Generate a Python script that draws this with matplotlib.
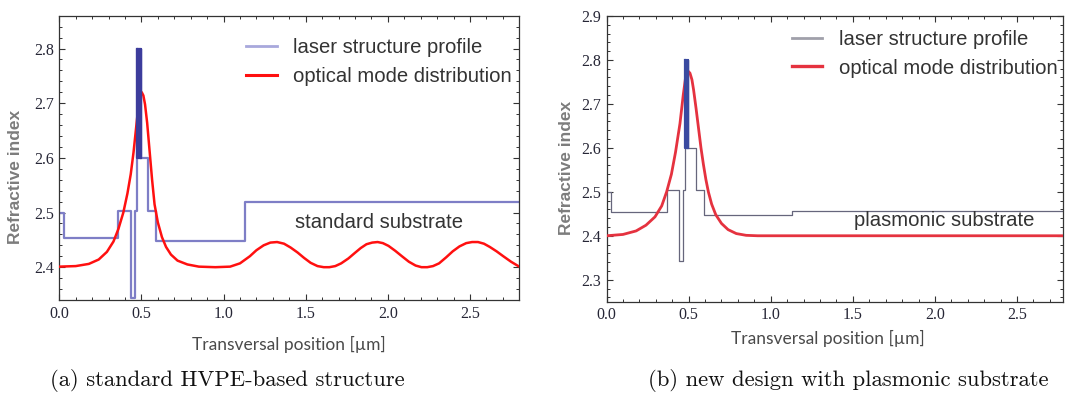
import numpy as np
import matplotlib.pyplot as plt
from matplotlib.lines import Line2D
from matplotlib.ticker import MultipleLocator, FormatStrFormatter

plt.rcParams['font.family'] = ['Liberation Serif', 'DejaVu Serif']

# ---- (a) standard HVPE-based structure ----
prof_a_x = [0.0, 0.027, 0.358, 0.437, 0.459, 0.471, 0.497, 0.542, 0.588, 1.133, 2.8]
prof_a_n = [2.500, 2.454, 2.503, 2.343, 2.503, 2.800, 2.600, 2.503, 2.447, 2.519, 2.519]
wells_a_x = [0.471, 0.474, 0.477, 0.480, 0.483, 0.486, 0.489, 0.492, 0.495, 0.497]
wells_a_n = [2.8, 2.6, 2.8, 2.6, 2.8, 2.6, 2.8, 2.6, 2.8, 2.6]

mode_a_x = [0.000, 0.100, 0.180, 0.240, 0.290, 0.330, 0.360, 0.390, 0.415, 0.435,
            0.452, 0.466, 0.480, 0.492, 0.502, 0.512, 0.522, 0.535, 0.550, 0.565,
            0.580, 0.600, 0.625, 0.650, 0.680, 0.720, 0.780, 0.850, 0.950, 1.040,
            1.100, 1.160, 1.200, 1.244, 1.285, 1.326, 1.368, 1.408, 1.450, 1.490,
            1.530, 1.572, 1.610, 1.644, 1.680, 1.716, 1.760, 1.799, 1.835, 1.870,
            1.905, 1.938, 1.970, 2.004, 2.045, 2.086, 2.128, 2.169, 2.205, 2.240,
            2.275, 2.312, 2.355, 2.395, 2.436, 2.477, 2.513, 2.549, 2.585, 2.621,
            2.662, 2.703, 2.750, 2.800]
mode_a_n = [2.401, 2.402, 2.406, 2.414, 2.428, 2.447, 2.470, 2.500, 2.535, 2.570,
            2.610, 2.650, 2.690, 2.714, 2.720, 2.714, 2.698, 2.664, 2.612, 2.560,
            2.515, 2.482, 2.455, 2.437, 2.423, 2.412, 2.405, 2.401, 2.400, 2.401,
            2.407, 2.420, 2.431, 2.440, 2.445, 2.446, 2.443, 2.436, 2.427, 2.417,
            2.408, 2.402, 2.400, 2.400, 2.402, 2.407, 2.416, 2.426, 2.435, 2.442,
            2.445, 2.446, 2.444, 2.439, 2.430, 2.420, 2.410, 2.403, 2.400, 2.400,
            2.402, 2.407, 2.418, 2.429, 2.438, 2.444, 2.446, 2.446, 2.443, 2.437,
            2.429, 2.420, 2.410, 2.401]

# ---- (b) new design with plasmonic substrate ----
prof_b_x = [0.0, 0.030, 0.366, 0.443, 0.463, 0.477, 0.498, 0.542, 0.595, 1.127, 2.78]
prof_b_n = [2.500, 2.455, 2.504, 2.343, 2.504, 2.800, 2.600, 2.504, 2.447, 2.456, 2.456]
wells_b_x = [0.477, 0.480, 0.483, 0.486, 0.489, 0.492, 0.495, 0.498]
wells_b_n = [2.8, 2.6, 2.8, 2.6, 2.8, 2.6, 2.8, 2.6]

mode_b_x = [0.000, 0.100, 0.180, 0.240, 0.295, 0.336, 0.366, 0.395, 0.420, 0.447,
            0.467, 0.482, 0.495, 0.508, 0.520, 0.530, 0.545, 0.560, 0.575, 0.590,
            0.605, 0.620, 0.640, 0.665, 0.700, 0.740, 0.790, 0.850, 0.920, 1.500, 2.780]
mode_b_n = [2.400, 2.403, 2.411, 2.424, 2.443, 2.468, 2.500, 2.540, 2.590, 2.655,
            2.720, 2.762, 2.775, 2.770, 2.755, 2.732, 2.690, 2.645, 2.600, 2.562,
            2.528, 2.500, 2.472, 2.448, 2.428, 2.414, 2.405, 2.401, 2.400, 2.400, 2.400]

legend_labels = ['laser structure profile', 'optical mode distribution']

fig = plt.figure(figsize=(10.66, 4.01), dpi=100)
ax_a = fig.add_axes([0.0556, 0.2519, 0.4315, 0.7089])
ax_b = fig.add_axes([0.569, 0.2476, 0.4282, 0.7132])


def style_axes(ax, xlim, ylim):
    ax.set_xlim(xlim)
    ax.set_ylim(ylim)
    ax.xaxis.set_major_locator(MultipleLocator(0.5))
    ax.xaxis.set_minor_locator(MultipleLocator(0.1))
    ax.yaxis.set_major_locator(MultipleLocator(0.1))
    ax.yaxis.set_minor_locator(MultipleLocator(0.02))
    ax.xaxis.set_major_formatter(FormatStrFormatter('%.1f'))
    ax.yaxis.set_major_formatter(FormatStrFormatter('%.1f'))
    ax.tick_params(which='both', direction='in', top=True, right=True,
                   colors='#333333', labelcolor='#262636', labelsize=11.5, pad=4)
    ax.tick_params(which='major', length=4.5, width=0.8)
    ax.tick_params(which='minor', length=2.5, width=0.7)
    for sp in ax.spines.values():
        sp.set_color('#333333')
        sp.set_linewidth(0.9)
    ax.set_ylabel('Refractive index', family='Liberation Sans', fontweight='bold',
                  color='#7c7c7c', fontsize=12.5)
    ax.set_xlabel('Transversal position [µm]', family='Lato', color='#4a4a4a',
                  fontsize=12.5)


# panel a
ax_a.step(prof_a_x, prof_a_n, where='post', color='#7e7ec6', lw=1.6, zorder=2)
ax_a.plot(mode_a_x, mode_a_n, color='#ff1010', lw=1.8, zorder=3)
ax_a.step(wells_a_x, wells_a_n, where='post', color='#3c3c9c', lw=1.6, zorder=4)
style_axes(ax_a, (0, 2.8), (2.34, 2.86))
ax_a.text(1.433, 2.481, 'standard substrate', family='Liberation Sans',
          fontsize=14.6, color='#333333', va='center')
h_a = [Line2D([], [], color='#a8a8dc', lw=2), Line2D([], [], color='#ff1010', lw=2.2)]
ax_a.legend(h_a, legend_labels, loc='upper left', bbox_to_anchor=(0.407, 0.921),
            frameon=False, borderpad=0, borderaxespad=0, handlelength=1.5,
            handletextpad=0.8, labelspacing=0.47,
            prop={'family': 'Liberation Sans', 'size': 14.6}, labelcolor='#333333')
ax_a.xaxis.set_label_coords(0.5, -0.125)
ax_a.yaxis.set_label_coords(-0.078, 0.433)

# panel b
ax_b.step(prof_b_x, prof_b_n, where='post', color='#66667c', lw=0.9, zorder=2)
ax_b.plot(mode_b_x, mode_b_n, color='#e5323f', lw=2.0, zorder=3)
ax_b.step(wells_b_x, wells_b_n, where='post', color='#3a4aa0', lw=1.6, zorder=4)
style_axes(ax_b, (0, 2.78), (2.25, 2.9005))
ax_b.text(1.505, 2.434, 'plasmonic substrate', family='Liberation Sans',
          fontsize=14.6, color='#333333', va='center')
h_b = [Line2D([], [], color='#a0a0aa', lw=2), Line2D([], [], color='#e5323f', lw=2.4)]
ax_b.legend(h_b, legend_labels, loc='upper left', bbox_to_anchor=(0.406, 0.950),
            frameon=False, borderpad=0, borderaxespad=0, handlelength=1.5,
            handletextpad=0.8, labelspacing=0.47,
            prop={'family': 'Liberation Sans', 'size': 14.6}, labelcolor='#333333')
ax_b.xaxis.set_label_coords(0.485, -0.10)
ax_b.yaxis.set_label_coords(-0.072, 0.467)

# captions
fig.text(227 / 1066, 1 - 380 / 401, '(a) standard HVPE-based structure',
         family='cmr10', fontsize=16.3, ha='center', va='center', color='#111111')
fig.text(848 / 1066, 1 - 380 / 401, '(b) new design with plasmonic substrate',
         family='cmr10', fontsize=16.3, ha='center', va='center', color='#111111')

fig.savefig('out.png', dpi=100)
